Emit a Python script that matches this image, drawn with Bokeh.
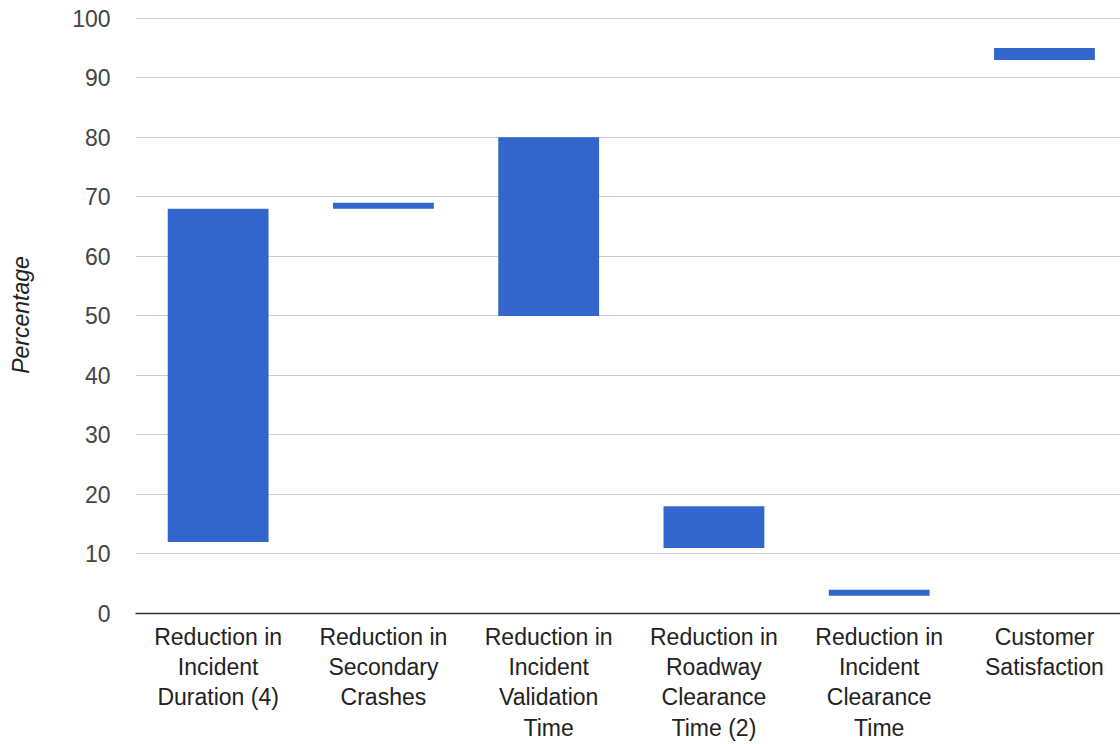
from bokeh.plotting import figure
from bokeh.models import FixedTicker, ColumnDataSource, Range1d
from bokeh.embed import file_html
from bokeh.resources import INLINE

categories = [
    "Reduction in\nIncident\nDuration (4)",
    "Reduction in\nSecondary\nCrashes",
    "Reduction in\nIncident\nValidation\nTime",
    "Reduction in\nRoadway\nClearance\nTime (2)",
    "Reduction in\nIncident\nClearance\nTime",
    "Customer\nSatisfaction",
]
low_values = [12, 68, 50, 11, 3, 93]
high_values = [68, 69, 80, 18, 4, 95]
y_ticks = [0, 10, 20, 30, 40, 50, 60, 70, 80, 90, 100]

xs = list(range(len(categories)))
src = ColumnDataSource(dict(x=xs, low=low_values, high=high_values))

p = figure(width=1120, height=744, output_backend="svg", toolbar_location=None,
           x_range=Range1d(-0.5, 5.46), y_range=Range1d(0, 100.3),
           min_border_left=135, min_border_right=0, min_border_top=16, min_border_bottom=131)
p.vbar(x="x", bottom="low", top="high", width=0.61, source=src,
       fill_color="#3366cc", line_color=None)

p.outline_line_color = None
p.background_fill_color = "white"
p.border_fill_color = "white"

p.xgrid.grid_line_color = None
p.ygrid.grid_line_color = "#cccccc"
p.ygrid.grid_line_width = 1

p.yaxis.ticker = FixedTicker(ticks=y_ticks)
p.yaxis.axis_line_color = None
p.yaxis.major_tick_line_color = None
p.yaxis.minor_tick_line_color = None
p.yaxis.major_label_text_font = "Liberation Sans"
p.yaxis.major_label_text_font_size = "23px"
p.yaxis.major_label_text_color = "#444444"
p.yaxis.major_label_standoff = 19
p.yaxis.axis_label = "Percentage"
p.yaxis.axis_label_text_font = "Liberation Sans"
p.yaxis.axis_label_text_font_style = "italic"
p.yaxis.axis_label_text_font_size = "23px"
p.yaxis.axis_label_text_color = "#222222"
p.yaxis.axis_label_standoff = 35

p.xaxis.ticker = FixedTicker(ticks=xs)
p.xaxis.major_label_overrides = {i: c for i, c in enumerate(categories)}
p.xaxis.axis_line_color = "#333333"
p.xaxis.axis_line_width = 1.5
p.xaxis.major_tick_line_color = None
p.xaxis.minor_tick_line_color = None
p.xaxis.major_tick_out = 0
p.xaxis.major_tick_in = 0
p.xaxis.minor_tick_out = 0
p.xaxis.minor_tick_in = 0
p.xaxis.major_label_text_font = "Liberation Sans"
p.xaxis.major_label_text_font_size = "23px"
p.xaxis.major_label_text_color = "#222222"
p.xaxis.major_label_text_line_height = 1.168
p.xaxis.major_label_standoff = 10

open("out.html", "w").write(file_html(p, INLINE))
